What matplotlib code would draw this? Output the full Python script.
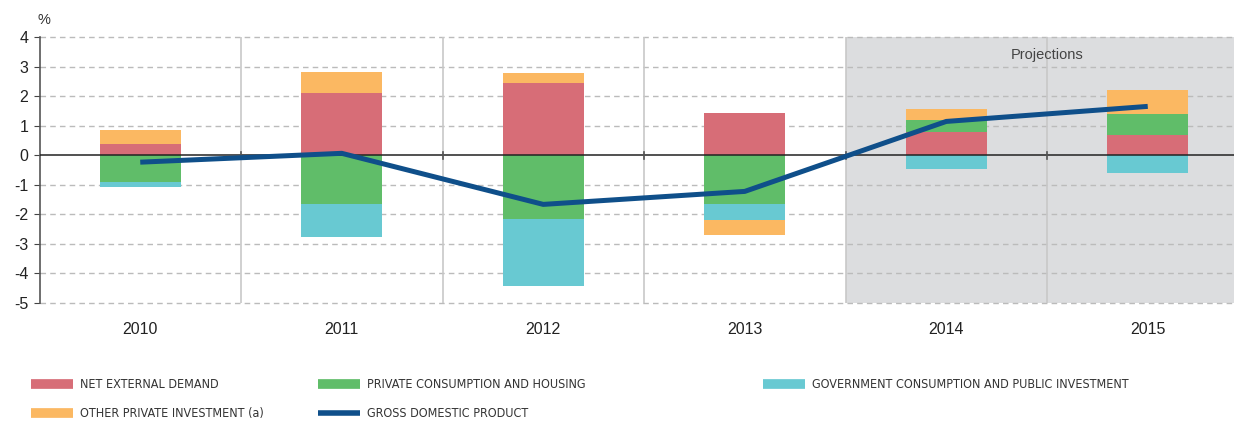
import numpy as np
import matplotlib.pyplot as plt
from matplotlib.lines import Line2D
from matplotlib import font_manager

plt.rcParams['font.family'] = ['Liberation Sans', 'DejaVu Sans']

# data (percentage point contributions)
years = ['2010', '2011', '2012', '2013', '2014', '2015']
net_external = [0.37, 2.10, 2.45, 1.45, 0.79, 0.70]
private_cons = [-0.89, -1.63, -2.17, -1.63, 0.42, 0.69]
government = [-0.18, -1.15, -2.27, -0.57, -0.45, -0.59]
other_invest = [0.48, 0.71, 0.34, -0.50, 0.36, 0.84]
gdp = [-0.23, 0.07, -1.66, -1.22, 1.15, 1.66]

c_red = '#d76d77'
c_green = '#60bd69'
c_cyan = '#68c9d2'
c_orange = '#fbb862'
c_blue = '#0f4f8a'

fig = plt.figure(figsize=(12.34, 4.21), dpi=100)
ax = fig.add_axes([39.5 / 1234, 118 / 421, (1234 - 39.5) / 1234, 265.7 / 421])

x = np.arange(len(years))
w = 0.4

# stack positives upward and negatives downward
pos = np.zeros(len(years))
neg = np.zeros(len(years))
for vals, col in [(net_external, c_red), (private_cons, c_green),
                  (government, c_cyan), (other_invest, c_orange)]:
    vals = np.array(vals)
    bottoms = np.where(vals >= 0, pos, neg)
    ax.bar(x, vals, w, bottom=bottoms, color=col, zorder=3, linewidth=0)
    pos = pos + np.where(vals >= 0, vals, 0)
    neg = neg + np.where(vals < 0, vals, 0)

ax.plot(x, gdp, color=c_blue, lw=3.6, zorder=5, solid_capstyle='butt')

# projections shading
ax.axvspan(3.5, 6, color='#dcdddf', zorder=0, lw=0)
ax.text(4.5, 3.39, 'Projections', ha='center', va='center', fontsize=10.5, color='#444444')

ax.set_xlim(-0.5, -0.5 + (1234 - 39.5) / 201.5)
ax.set_ylim(-5, 4)
ax.set_yticks(range(-5, 5))
ax.set_yticklabels([str(v) for v in range(-5, 5)], fontsize=11.5, color='#222222')
ax.set_xticks(x)
ax.set_xticklabels(years, fontsize=11.5, color='#222222')
ax.tick_params(axis='x', length=0, pad=14)
ax.tick_params(axis='y', length=4, color='#444444', pad=4)

for v in range(-5, 5):
    if v != 0:
        ax.axhline(v, color='#bbbbbb', lw=1, ls=(0, (4, 3)), zorder=1, clip_on=False)
ax.axhline(0, color='#222222', lw=1.1, zorder=4)
for b in np.arange(0.5, 5.0, 1):
    ax.axvline(b, color='#c8c8c8', lw=1.2, zorder=1)
    ax.plot([b, b], [-0.12, 0.12], color='#555555', lw=1.2, zorder=4)

for s in ['top', 'right', 'bottom']:
    ax.spines[s].set_visible(False)
ax.spines['left'].set_color('#555555')
ax.spines['left'].set_linewidth(1.2)

fig.text(37 / 1234, 1 - 20 / 421, '%', fontsize=10.5, color='#333333', va='center')

# legend, one block per column
leg_font = font_manager.FontProperties(family=['DejaVu Sans'], stretch='condensed', size=9)
columns = [
    (31, [(c_red, 7, 'NET EXTERNAL DEMAND'), (c_orange, 7, 'OTHER PRIVATE INVESTMENT (a)')]),
    (318, [(c_green, 7, 'PRIVATE CONSUMPTION AND HOUSING'), (c_blue, 4, 'GROSS DOMESTIC PRODUCT')]),
    (763, [(c_cyan, 7, 'GOVERNMENT CONSUMPTION AND PUBLIC INVESTMENT')]),
]
for xpos, entries in columns:
    hs = [Line2D([], [], color=c, lw=lw, solid_capstyle='butt') for c, lw, _ in entries]
    ls = [t for _, _, t in entries]
    fig.legend(hs, ls, loc='upper left', bbox_to_anchor=(xpos / 1234, 1 - 378 / 421),
               frameon=False, borderpad=0, borderaxespad=0, handlelength=3.36,
               handletextpad=0.56, labelspacing=1.27, prop=leg_font, labelcolor='#333333')

fig.savefig('out.png', dpi=100)
